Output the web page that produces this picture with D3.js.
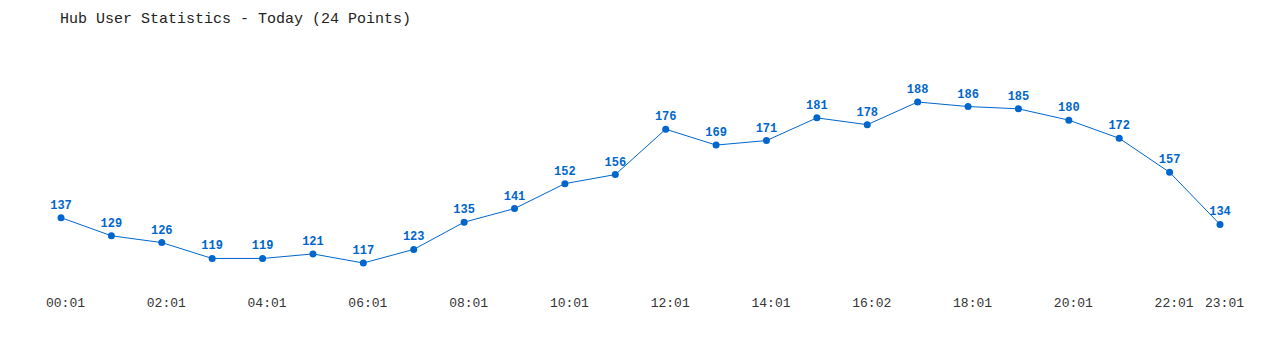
<!DOCTYPE html>
<html><head><meta charset="utf-8">
<script src="https://cdn.jsdelivr.net/npm/d3@7"></script>
<style>
html,body{margin:0;padding:0;background:#fff;}
svg{display:block;}
text{font-family:"Liberation Mono","DejaVu Sans Mono",monospace;}
</style></head>
<body>
<svg id="chart" width="1280" height="350"></svg>
<script>
const title = "Hub User Statistics - Today (24 Points)";
const categories = ["00:01","01:01","02:01","03:01","04:01","05:01","06:01","07:01","08:01","09:01","10:01","11:01","12:01","13:01","14:01","15:01","16:02","17:01","18:01","19:01","20:01","21:01","22:01","23:01"];
const values = [137,129,126,119,119,121,117,123,135,141,152,156,176,169,171,181,178,188,186,185,180,172,157,134];
const tickLabels = ["00:01","02:01","04:01","06:01","08:01","10:01","12:01","14:01","16:02","18:01","20:01","22:01","23:01"];

const svg = d3.select("#chart");
const color = "#0066cc";

const x = d3.scalePoint().domain(categories).range([61,1220]);
const y = d3.scaleLinear().domain([117,188]).range([263,102]);

svg.append("text").attr("x",60).attr("y",23)
  .attr("font-size",15).attr("fill","#222").text(title);

svg.append("path")
  .datum(values)
  .attr("fill","none").attr("stroke",color).attr("stroke-width",1)
  .attr("d", d3.line().x((d,i)=>x(categories[i])).y(d=>y(d)));

svg.selectAll("circle.pt").data(values).join("circle")
  .attr("class","pt")
  .attr("cx",(d,i)=>x(categories[i])).attr("cy",d=>y(d)).attr("r",3.5)
  .attr("fill",color);

svg.selectAll("text.val").data(values).join("text")
  .attr("class","val")
  .attr("x",(d,i)=>x(categories[i])).attr("y",d=>y(d)-9)
  .attr("text-anchor","middle").attr("font-size",12).attr("font-weight","bold")
  .attr("fill",color).text(d=>d);

const axis = d3.axisBottom(x).tickValues(tickLabels).tickSize(0).tickPadding(0);
const g = svg.append("g").attr("transform","translate(4,298)").call(axis);
g.select(".domain").remove();
g.selectAll("text").attr("font-size",13).attr("fill","#333")
  .attr("font-family","'Liberation Mono','DejaVu Sans Mono',monospace");
</script>
</body></html>
